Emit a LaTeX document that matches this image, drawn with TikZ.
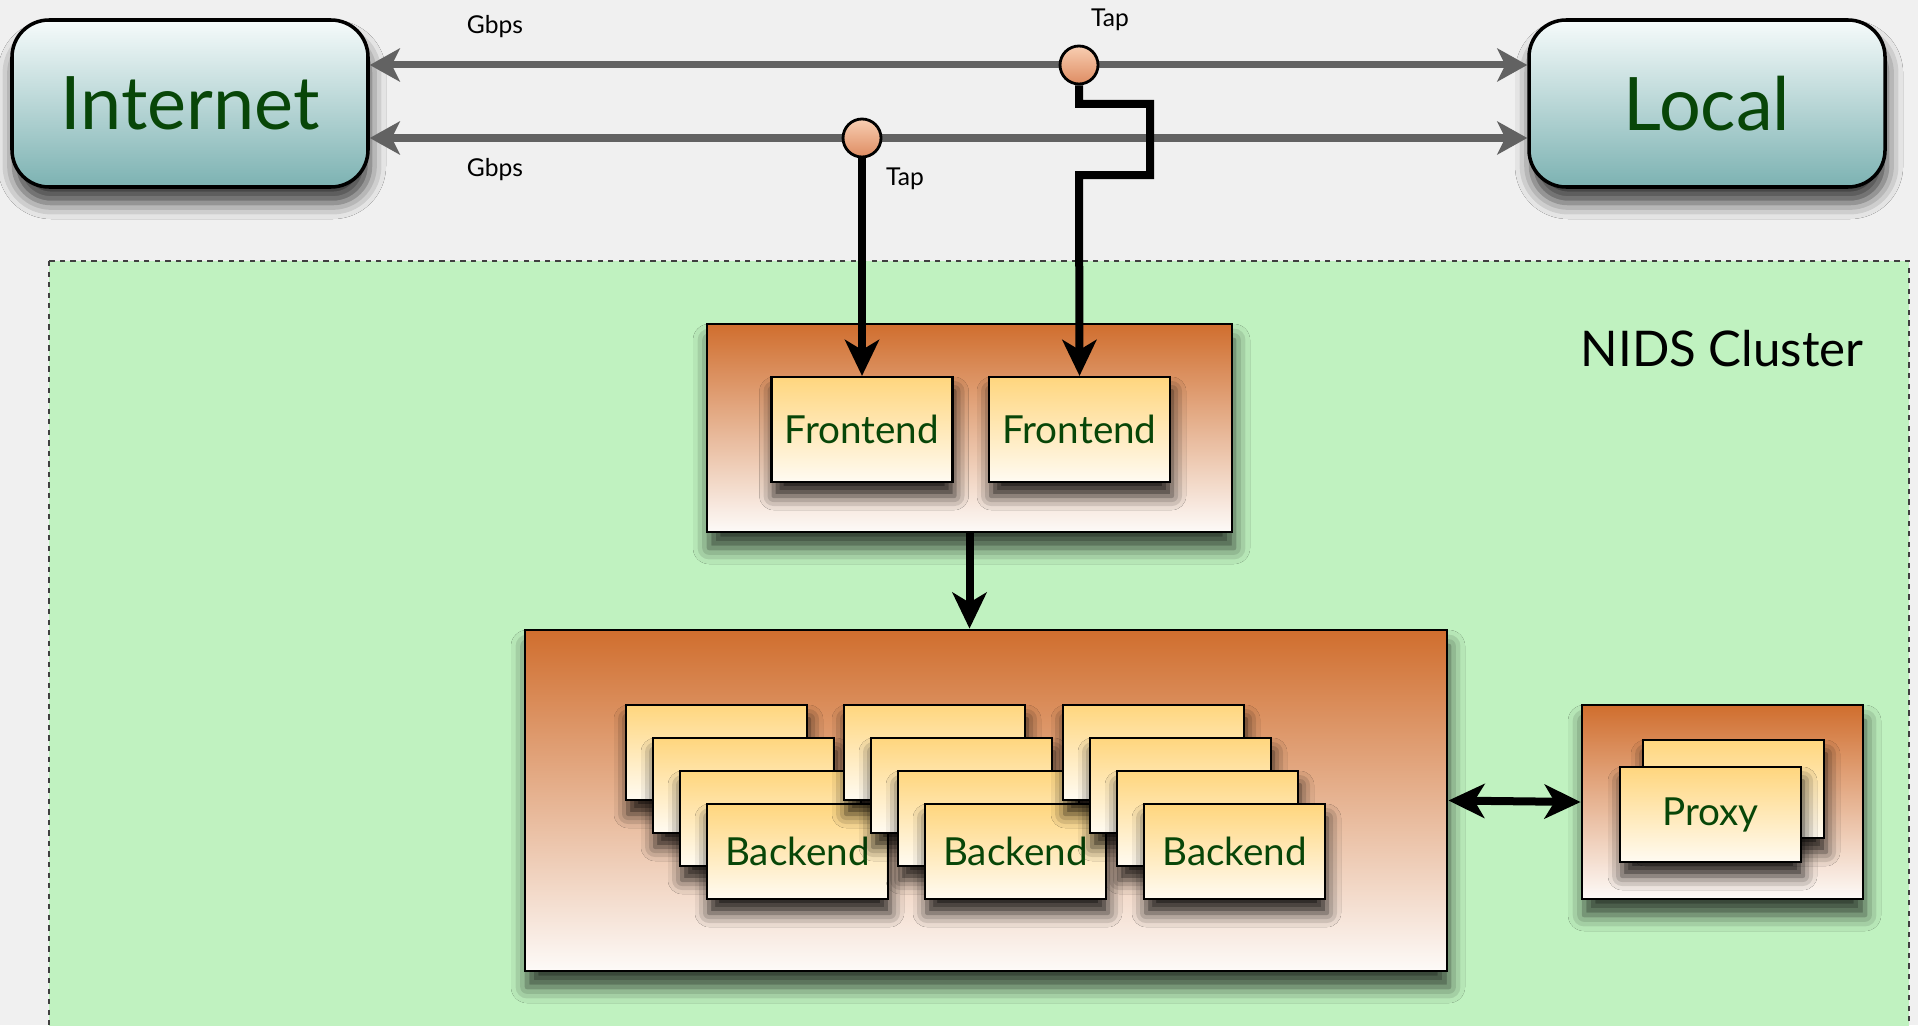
\documentclass[tikz,border=0pt]{standalone}
\usepackage{fontspec}
\setmainfont{Lato}
\usetikzlibrary{arrows.meta,shadows.blur,positioning}

\definecolor{pagegray}{RGB}{240,240,240}
\definecolor{clustergreen}{RGB}{192,242,192}
\definecolor{textgreen}{RGB}{8,70,8}
\definecolor{tealtop}{RGB}{246,251,251}
\definecolor{tealbot}{RGB}{124,178,178}
\definecolor{holdtop}{RGB}{208,110,46}
\definecolor{holdbot}{RGB}{253,250,248}
\definecolor{unittop}{RGB}{255,214,126}
\definecolor{unitbot}{RGB}{255,251,242}
\definecolor{taptop}{RGB}{248,206,178}
\definecolor{tapbot}{RGB}{222,140,98}
\definecolor{linkgray}{RGB}{98,98,98}

\tikzset{
  endpoint/.style={draw, line width=1pt, rounded corners=0.37cm,
    minimum width=3.56cm, minimum height=1.67cm, inner sep=0pt,
    top color=tealtop, bottom color=tealbot, text=textgreen,
    font=\fontsize{21}{21}\selectfont,
    blur shadow={shadow xshift=0.02cm, shadow yshift=-0.16cm, shadow blur radius=0.16cm, shadow opacity=75}},
  holder/.style={draw, line width=0.8pt, inner sep=0pt,
    top color=holdtop, bottom color=holdbot,
    blur shadow={shadow xshift=0.02cm, shadow yshift=-0.16cm, shadow blur radius=0.16cm, shadow opacity=75}},
  unit/.style={draw, line width=0.6pt, inner sep=0pt,
    minimum width=1.81cm, minimum height=0.95cm,
    top color=unittop, bottom color=unitbot, text=textgreen,
    font=\fontsize{11}{11}\selectfont,
    blur shadow={shadow xshift=0.02cm, shadow yshift=-0.14cm, shadow blur radius=0.14cm, shadow opacity=85}},
  tap/.style={circle, draw, line width=0.8pt, minimum size=0.38cm, inner sep=0pt,
    top color=taptop, bottom color=tapbot},
  note/.style={font=\fontsize{7}{7}\selectfont},
  link/.style={draw=linkgray, line width=0.07cm,
    {Stealth[length=0.30cm, width=0.33cm, inset=0.08cm]}-{Stealth[length=0.30cm, width=0.33cm, inset=0.08cm]}},
  feed/.style={line width=0.08cm, miter limit=4,
    -{Stealth[length=0.36cm, width=0.34cm, inset=0.1cm]}}
}

\begin{document}
\begin{tikzpicture}
  \useasboundingbox[fill=pagegray] (0,0) rectangle (19.18,-10.25);

  % cluster area
  \filldraw[fill=clustergreen, draw=black!75, line width=0.4pt, dash pattern=on 1.5pt off 1.5pt]
    (0.49,-2.61) rectangle (19.09,-10.45);
  \node[font=\fontsize{14}{14}\selectfont] (cluster) at (17.22,-3.49) {NIDS Cluster};

  % outside world
  \node[endpoint] (internet) at (1.90,-1.035) {Internet};
  \node[endpoint] (local) at (17.07,-1.035) {Local};

  \coordinate (tapApos) at (10.79,-0.65);
  \coordinate (tapBpos) at (8.62,-1.38);
  \draw[link] (internet.east |- tapApos) -- (local.west |- tapApos);
  \draw[link] (internet.east |- tapBpos) -- (local.west |- tapBpos);
  \node[tap] (tapA) at (tapApos) {};
  \node[tap] (tapB) at (tapBpos) {};

  \node[note] (gbpsA) at (4.95,-0.27) {Gbps};
  \node[note] (gbpsB) at (4.95,-1.70) {Gbps};
  \node[note] (tapAlabel) at (11.10,-0.20) {Tap};
  \node[note] (tapBlabel) at (9.05,-1.79) {Tap};

  % frontends
  \node[holder, minimum width=5.25cm, minimum height=2.08cm] (fehold) at (9.695,-4.28) {};
  \node[unit, minimum height=1.05cm] (fe1) at (8.62,-4.295) {Frontend};
  \node[unit, minimum height=1.05cm] (fe2) at (10.795,-4.295) {Frontend};

  % backends
  \node[holder, minimum width=9.22cm, minimum height=3.41cm] (behold) at (9.86,-8.005) {};
  \foreach \cx [count=\i] in {7.975,10.155,12.345} {
    \foreach \k in {3,2,1}
      \node[unit] (be\i-\k) at (\cx-0.27*\k,-8.515+0.33*\k) {};
    \node[unit] (be\i) at (\cx,-8.515) {Backend};
  }

  % proxies
  \node[holder, minimum width=2.81cm, minimum height=1.94cm] (pxhold) at (17.225,-8.02) {};
  \node[unit, minimum height=0.98cm] (px2) at (17.335,-7.89) {};
  \node[unit, minimum height=0.95cm] (px1) at (17.105,-8.145) {Proxy};

  % connections
  \coordinate (jogA) at (11.50,-1.04);
  \coordinate (jogB) at (10.79,-1.75);
  \draw[feed] (tapB.south) -- (fe1.north);
  \draw[feed] (tapA.south) |- (jogA) |- (jogB) -- (fe2.north);
  \draw[feed] (fehold.south) -- (fehold.south |- behold.north);
  \draw[feed, {Stealth[length=0.36cm, width=0.34cm, inset=0.1cm]}-{Stealth[length=0.36cm, width=0.34cm, inset=0.1cm]}]
    (behold.east) -- (pxhold.west);
\end{tikzpicture}
\end{document}
